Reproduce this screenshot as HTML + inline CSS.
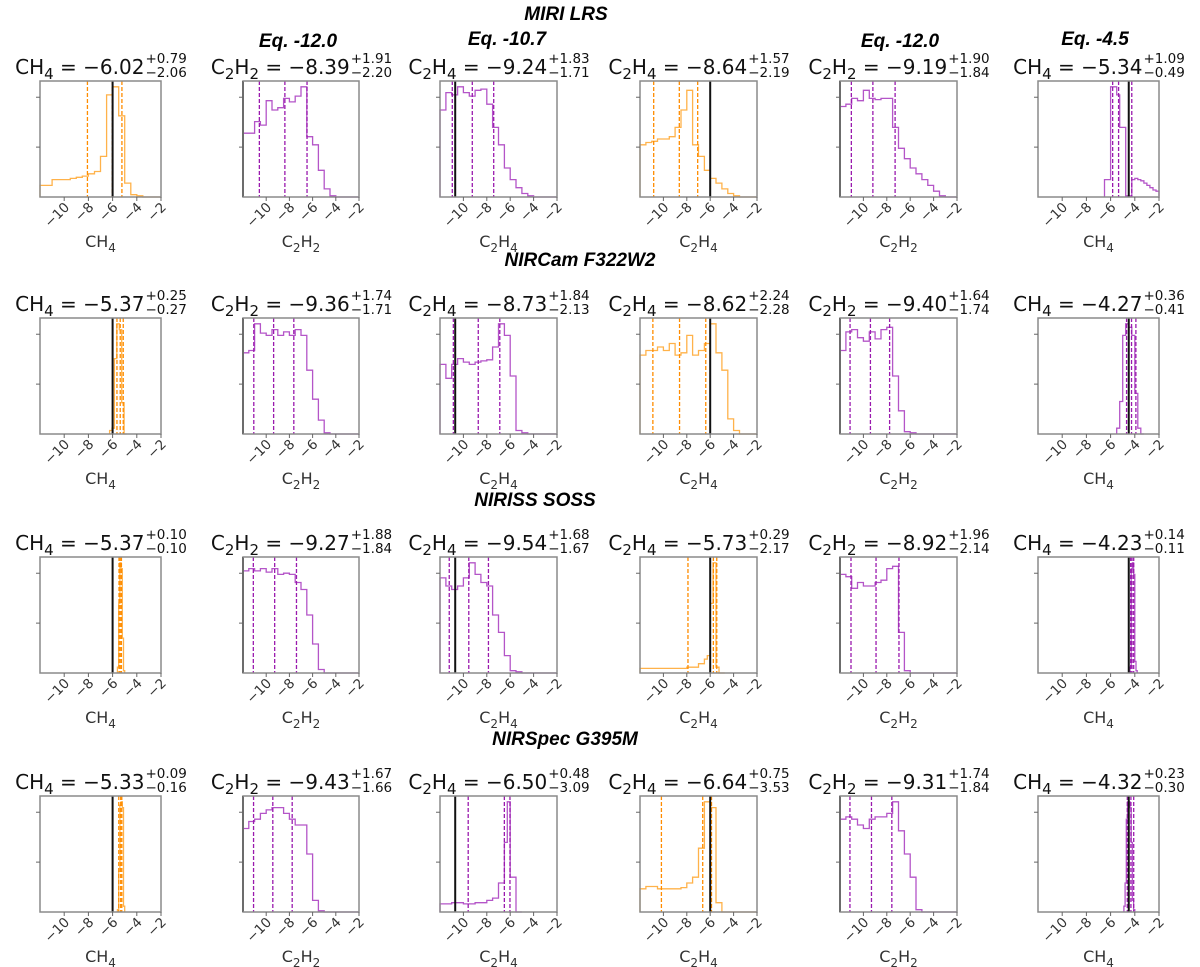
<!DOCTYPE html>
<html><head><meta charset="utf-8"><style>
html,body{margin:0;padding:0;background:#fff;}
svg{display:block;font-family:"DejaVu Sans","Liberation Sans",sans-serif;}
.hdr{font-family:"Liberation Sans",sans-serif;font-weight:bold;font-style:italic;font-size:19px;fill:#000;}
</style></head><body>
<svg id="fig" width="1200" height="967" viewBox="0 0 1200 967">
<text class="hdr" x="566" y="20" text-anchor="middle">MIRI LRS</text>
<text class="hdr" x="580" y="266" text-anchor="middle">NIRCam F322W2</text>
<text class="hdr" x="535" y="506" text-anchor="middle">NIRISS SOSS</text>
<text class="hdr" x="565" y="745" text-anchor="middle">NIRSpec G395M</text>
<text class="hdr" x="298" y="47" text-anchor="middle">Eq. -12.0</text>
<text class="hdr" x="507" y="45" text-anchor="middle">Eq. -10.7</text>
<text class="hdr" x="900" y="47" text-anchor="middle">Eq. -12.0</text>
<text class="hdr" x="1095" y="45" text-anchor="middle">Eq. -4.5</text>
</svg>
<script>
// ---- data (row-major, 4 rows x 6 panels) ----
const species = ["CH4","C2H2","C2H4","C2H4","C2H2","CH4"];
const colorKind = ["o","p","p","o","p","p"];
const medians = [-6.02,-8.39,-9.24,-8.64,-9.19,-5.34, -5.37,-9.36,-8.73,-8.62,-9.40,-4.27, -5.37,-9.27,-9.54,-5.73,-8.92,-4.23, -5.33,-9.43,-6.50,-6.64,-9.31,-4.32];
const plusErr = [0.79,1.91,1.83,1.57,1.90,1.09, 0.25,1.74,1.84,2.24,1.64,0.36, 0.10,1.88,1.68,0.29,1.96,0.14, 0.09,1.67,0.48,0.75,1.74,0.23];
const minusErr = [2.06,2.20,1.71,2.19,1.84,0.49, 0.27,1.71,2.13,2.28,1.74,0.41, 0.10,1.84,1.67,2.17,2.14,0.11, 0.16,1.66,3.09,3.53,1.84,0.30];
const truthVals = [-6,-12,-10.7,-6,-12,-4.5];
const histLo = [-12,-12,-12,-12,-12,-6.5, -6.25,-12,-12,-12,-12,-5.5, -5.6,-12,-12,-12,-12,-4.4, -5.6,-12,-12,-12,-12,-4.9];
const histW = [0.5,0.5,0.5,0.5,0.5,0.25, 0.2,0.5,0.5,0.5,0.5,0.25, 0.1,0.5,0.5,0.25,0.5,0.1, 0.1,0.5,0.25,0.5,0.5,0.1];
const histV = [
 [0.10,0.10,0.15,0.15,0.15,0.16,0.17,0.18,0.20,0.22,0.35,0.88,0.95,0.70,0.12,0.02,0.01,0,0,0],
 [0.55,0.55,0.65,0.62,0.83,0.75,0.77,0.85,0.82,0.87,0.95,0.52,0.45,0.23,0.07,0.01,0,0,0,0],
 [0.75,0.90,0.88,0.95,0.90,0.87,0.92,0.93,0.80,0.60,0.45,0.25,0.15,0.08,0.03,0.01,0,0,0,0],
 [0.45,0.47,0.48,0.50,0.50,0.52,0.60,0.75,0.92,0.45,0.35,0.23,0.16,0.12,0.07,0.03,0.01,0,0,0],
 [0.78,0.80,0.85,0.83,0.92,0.85,0.84,0.85,0.85,0.60,0.42,0.33,0.25,0.20,0.15,0.10,0.05,0.01,0,0],
 [0.15,0.15,0.95,0.95,0.88,0.60,0.60,0.01,0.01,0.15,0.16,0.15,0.14,0.12,0.10,0.08,0.06,0.05],
 [0.03,0.05,0.65,0.95,0.90,0.27,0],
 [0.70,0.72,0.95,0.87,0.85,0.90,0.85,0.88,0.85,0.90,0.85,0.55,0.30,0.12,0.01,0,0,0,0,0],
 [0.60,0.48,0.60,0.65,0.62,0.60,0.62,0.63,0.64,0.75,0.95,0.85,0.50,0.03,0.01,0,0,0,0,0],
 [0.68,0.72,0.72,0.75,0.72,0.78,0.68,0.70,0.85,0.68,0.72,0.78,0.95,0.70,0.55,0.13,0.03,0,0,0],
 [0.72,0.88,0.90,0.83,0.80,0.88,0.82,0.90,0.92,0.50,0.20,0.02,0.01,0,0,0,0,0,0,0],
 [0.05,0.28,0.85,0.95,0.92,0.85,0.35,0.05,0],
 [0.05,0.60,0.95,0.90,0.30,0.02],
 [0.88,0.90,0.88,0.90,0.87,0.90,0.85,0.86,0.85,0.78,0.72,0.50,0.25,0.03,0,0,0,0,0,0],
 [0.82,0.75,0.72,0.75,0.82,0.95,0.85,0.78,0.75,0.50,0.35,0.15,0.02,0.01,0,0,0,0,0,0],
 [0.04,0.04,0.04,0.04,0.04,0.04,0.04,0.04,0.04,0.04,0.04,0.04,0.04,0.04,0.04,0.04,0.05,0.05,0.05,0.05,0.08,0.08,0.12,0.15,0.60,0.95,0.05,0,0],
 [0.85,0.83,0.73,0.78,0.75,0.75,0.78,0.80,0.90,0.92,0.35,0.02,0,0,0,0,0,0,0,0],
 [0.05,0.90,0.95,0.85,0.10,0.02],
 [0.02,0.35,0.92,0.95,0.90,0.05],
 [0.72,0.78,0.80,0.85,0.88,0.90,0.90,0.85,0.80,0.75,0.75,0.50,0.10,0.01,0,0,0,0,0,0],
 [0.07,0.07,0.07,0.07,0.08,0.08,0.08,0.08,0.07,0.07,0.07,0.07,0.08,0.08,0.08,0.08,0.10,0.10,0.12,0.12,0.25,0.25,0.60,0.95,0.30,0.30,0,0],
 [0.20,0.22,0.22,0.20,0.20,0.20,0.20,0.21,0.25,0.30,0.55,0.95,0.90,0.08,0,0,0,0,0,0],
 [0.80,0.82,0.80,0.75,0.72,0.80,0.82,0.82,0.85,0.95,0.70,0.50,0.30,0.02,0,0,0,0,0,0],
 [0.05,0.25,0.80,0.95,0.95,0.90,0.60,0.10,0.02]
];
const xTicks = [-10,-8,-6,-4,-2];
const xTickLabels = ["\u221210","\u22128","\u22126","\u22124","\u22122"];
const xMin = -12, xMax = -2;

// ---- layout ----
const NS = "http://www.w3.org/2000/svg";
const svg = document.getElementById('fig');
const colL = [40,243,440,640,840,1038];
const colW = [121,116,117,117,117,121];
const rowT = [81,318,557,796];
const PH = 116;
const COL = {o:{h:"#ffb24a",d:"#ff8c00"}, p:{h:"#b455c8",d:"#9a1aae"}};
function mk(tag, attrs, parent){const e=document.createElementNS(NS,tag);for(const k in attrs)e.setAttribute(k,attrs[k]);(parent||svg).appendChild(e);return e;}
// returns true if ended lowered
function addFormula(t, name, fs){
  const parts = name.match(/[A-Z][a-z]?|\d+/g);
  let low=false;
  parts.forEach(p=>{
    const ts=mk('tspan',{},t);
    if(/\d/.test(p)){ts.setAttribute('font-size',fs);if(!low)ts.setAttribute('dy','5');low=true;}
    else {if(low)ts.setAttribute('dy','-5');low=false;}
    ts.textContent=p;
  });
  return low;
}
for(let r=0;r<4;r++){
 for(let c=0;c<6;c++){
  const i=r*6+c;
  const L=colL[c], W=colW[c], T=rowT[r], B=T+PH;
  const sx=v=>L+(v-xMin)/(xMax-xMin)*W;
  const sy=f=>B-f*PH;
  const g=mk('g',{});
  
  
  const col=COL[colorKind[c]];
  const lo=histLo[i], w=histW[i], vals=histV[i];
  let d='M'+sx(lo).toFixed(1)+','+B;
  vals.forEach((v,k)=>{const x0=sx(lo+k*w), x1=sx(lo+(k+1)*w); d+=' L'+x0.toFixed(1)+','+sy(v).toFixed(1)+' L'+x1.toFixed(1)+','+sy(v).toFixed(1);});
  d+=' L'+sx(lo+vals.length*w).toFixed(1)+','+B;
  const h=mk('path',{d:d,fill:'none',stroke:col.h,'stroke-width':1.3},g);
  
  
  [medians[i]-minusErr[i],medians[i],medians[i]+plusErr[i]].forEach(q=>{
   const ql=mk('line',{x1:sx(q),x2:sx(q),y1:T,y2:B,stroke:col.d,'stroke-width':1.3,'stroke-dasharray':'4,2'},g);
   
   
  });
  const tl=mk('line',{x1:sx(truthVals[c]),x2:sx(truthVals[c]),y1:T,y2:B,stroke:'#111','stroke-width':2},g);
  
  
  const fr=mk('rect',{x:L,y:T,width:W,height:PH,fill:'none',stroke:'#8a8a8a','stroke-width':1.5},g);
  
  
  [0.43,0.86].forEach(f=>{const yt=mk('line',{x1:L-4,x2:L,y1:sy(f),y2:sy(f),stroke:'#666','stroke-width':1},g);
   
   });
  xTicks.forEach((tv,k)=>{
   const x=sx(tv);
   const tk=mk('line',{x1:x,x2:x,y1:B,y2:B+4,stroke:'#666','stroke-width':1},g);
   
   
   const ax=x+6, ay=B+11;
   const lb=mk('text',{x:ax,y:ay,'font-size':13.5,fill:'#333','text-anchor':'end',transform:'rotate(-45 '+ax+' '+ay+')'},g);
   lb.textContent=xTickLabels[k];
   
   
  });
  const xl=mk('text',{x:L+W/2,y:B+50,'font-size':16,fill:'#333','text-anchor':'middle'},g);
  addFormula(xl,species[c],12);
  
  
  const tg=mk('g',{},g);
  
  
  const mt=mk('text',{x:0,y:T-7,'font-size':20,fill:'#111'},tg);
  const low=addFormula(mt,species[c],15);
  const rest=mk('tspan',{},mt); if(low)rest.setAttribute('dy','-5');
  rest.textContent=' = \u2212'+Math.abs(medians[i]).toFixed(2);
  const up=mk('text',{x:0,y:T-18,'font-size':13.5,fill:'#111'},tg); up.textContent='+'+plusErr[i].toFixed(2);
  const dn=mk('text',{x:0,y:T-4,'font-size':13.5,fill:'#111'},tg); dn.textContent='\u2212'+minusErr[i].toFixed(2);
  const mw=mt.getComputedTextLength(), ew=Math.max(up.getComputedTextLength(),dn.getComputedTextLength());
  const x0=L+W/2-(mw+ew)/2;
  mt.setAttribute('x',x0); up.setAttribute('x',x0+mw+1); dn.setAttribute('x',x0+mw+1);
 }
}
</script>
</body></html>
